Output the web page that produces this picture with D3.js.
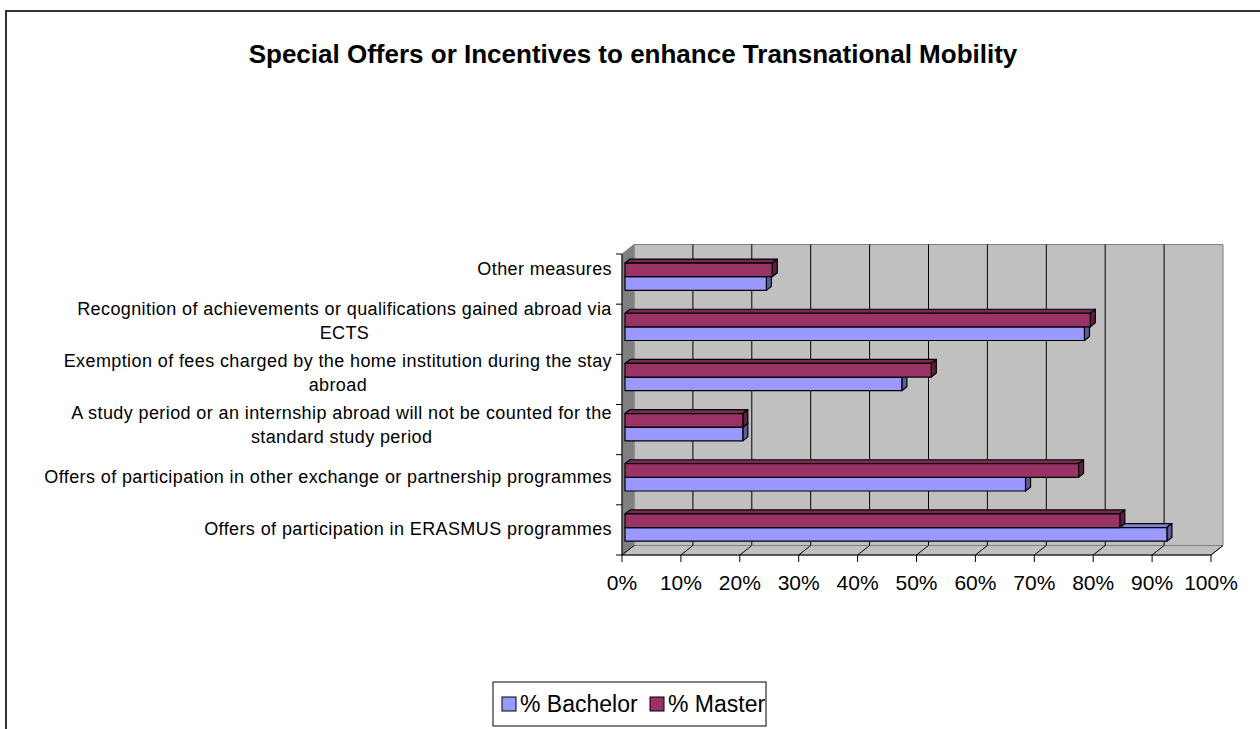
<!DOCTYPE html>
<html>
<head>
<meta charset="utf-8">
<script src="https://cdn.jsdelivr.net/npm/d3@7"></script>
<style>
  body { margin: 0; background: #fff; }
  svg { display: block; font-family: "Liberation Sans", Arial, sans-serif; }
</style>
</head>
<body>
<svg id="chart" width="1260" height="729"></svg>
<script>
// categories, top to bottom as shown
var categories = [
    'Other measures',
    'Recognition',
    'Exemption',
    'Study period',
    'Other exchange',
    'ERASMUS'
];
var categoryLabels = [
    ['Other measures'],
    ['Recognition of achievements or qualifications gained abroad via', 'ECTS'],
    ['Exemption of fees charged by the home institution during the stay', 'abroad'],
    ['A study period or an internship abroad will not be counted for the', 'standard study period'],
    ['Offers of participation in other exchange or partnership programmes'],
    ['Offers of participation in ERASMUS programmes']
];
var bachelor = [24, 78, 47, 20, 68, 92];
var master = [25, 79, 52, 20, 77, 84];
var seriesNames = ['% Bachelor', '% Master'];
var xTicks = [0, 10, 20, 30, 40, 50, 60, 70, 80, 90, 100];

var svg = d3.select('#chart');

// outer frame (runs off the page on right and bottom)
svg.append('rect')
    .attr('x', 6).attr('y', 11)
    .attr('width', 1400).attr('height', 900)
    .attr('fill', 'none')
    .attr('stroke', '#333').attr('stroke-width', 2);

svg.append('text')
    .attr('x', 633).attr('y', 63)
    .attr('text-anchor', 'middle')
    .attr('font-size', 26).attr('font-weight', 'bold')
    .text('Special Offers or Incentives to enhance Transnational Mobility');

// 3D-ish geometry
var DX = 12, DY = -9.5;   // full depth offset
var yTop = 254, yBottom = 555;

var x = d3.scaleLinear().domain([0, 100]).range([622, 1211]);
var y0 = d3.scaleBand().domain(categories).range([yTop, yBottom])
    .paddingInner(0.456).paddingOuter(0.228);
var y1 = d3.scaleBand().domain(['master', 'bachelor']).range([0, y0.bandwidth()]);
var yTicks = d3.scaleBand().domain(categories).range([yTop, yBottom]);
var yLabels = d3.scaleBand().domain(categories).range([242, yBottom]);

function P(px, py, z) { return [px + z * DX, py + z * DY]; }
function poly(pts) { return pts.map(function (p) { return p.join(','); }).join(' '); }

var walls = svg.append('g');
// back wall
walls.append('polygon')
    .attr('points', poly([P(x(0), yTop, 1), P(x(100), yTop, 1), P(x(100), yBottom, 1), P(x(0), yBottom, 1)]))
    .attr('fill', '#c0c0c0').attr('stroke', '#808080');
// floor
walls.append('polygon')
    .attr('points', poly([P(x(0), yBottom, 0), P(x(0), yBottom, 1), P(x(100), yBottom, 1), P(x(100), yBottom, 0)]))
    .attr('fill', '#c0c0c0').attr('stroke', '#808080');
// left side wall
walls.append('polygon')
    .attr('points', poly([P(x(0), yTop, 0), P(x(0), yTop, 1), P(x(0), yBottom, 1), P(x(0), yBottom, 0)]))
    .attr('fill', '#808080').attr('stroke', '#808080');

// gridlines: back wall verticals and floor diagonals
var grid = svg.append('g').attr('stroke', '#000').attr('stroke-width', 1);
grid.selectAll('line.v')
    .data(xTicks.slice(1, -1))
    .enter().append('line')
    .attr('x1', function (d) { return P(x(d), yTop, 1)[0]; })
    .attr('y1', function (d) { return P(x(d), yTop, 1)[1]; })
    .attr('x2', function (d) { return P(x(d), yBottom, 1)[0]; })
    .attr('y2', function (d) { return P(x(d), yBottom, 1)[1]; });
grid.selectAll('line.f')
    .data(xTicks)
    .enter().append('line')
    .attr('x1', function (d) { return P(x(d), yBottom, 0)[0]; })
    .attr('y1', function (d) { return P(x(d), yBottom, 0)[1]; })
    .attr('x2', function (d) { return P(x(d), yBottom, 1)[0]; })
    .attr('y2', function (d) { return P(x(d), yBottom, 1)[1]; });

// bars
var Z1 = 0.25, Z2 = 0.67;
var colors = {
    bachelor: { front: '#9999ff', top: '#8080d9', side: '#5c5c99' },
    master: { front: '#993366', top: '#7a2952', side: '#5c1f3d' }
};

function drawBar(g, cat, v, key) {
    var c = colors[key];
    var yt = y0(cat) + y1(key), yb = yt + y1.bandwidth();
    var x0 = x(0), xv = x(v);
    g.append('polygon')
        .attr('points', poly([P(x0, yt, Z1), P(x0, yt, Z2), P(xv, yt, Z2), P(xv, yt, Z1)]))
        .attr('fill', c.top);
    g.append('polygon')
        .attr('points', poly([P(xv, yt, Z1), P(xv, yt, Z2), P(xv, yb, Z2), P(xv, yb, Z1)]))
        .attr('fill', c.side);
    g.append('polygon')
        .attr('points', poly([P(x0, yt, Z1), P(xv, yt, Z1), P(xv, yb, Z1), P(x0, yb, Z1)]))
        .attr('fill', c.front);
}

var bars = svg.append('g').attr('stroke', '#000').attr('stroke-width', 1.2).attr('stroke-linejoin', 'round');
categories.forEach(function (cat, i) {
    var g = bars.append('g');
    drawBar(g, cat, bachelor[i], 'bachelor');
    drawBar(g, cat, master[i], 'master');
});

// axes
var axis = svg.append('g').attr('stroke', '#000');
axis.append('line')
    .attr('x1', x(0)).attr('x2', x(100))
    .attr('y1', yBottom).attr('y2', yBottom);
axis.append('line')
    .attr('x1', x(0)).attr('x2', x(0))
    .attr('y1', yTop).attr('y2', yBottom);
axis.selectAll('line.xt')
    .data(xTicks)
    .enter().append('line')
    .attr('x1', function (d) { return x(d); }).attr('x2', function (d) { return x(d); })
    .attr('y1', yBottom).attr('y2', yBottom + 7);
axis.selectAll('line.yt')
    .data(categories.concat(['end']))
    .enter().append('line')
    .attr('x1', x(0) - 6).attr('x2', x(0))
    .attr('y1', function (d, i) { return i < categories.length ? yTicks(d) : yBottom; })
    .attr('y2', function (d, i) { return i < categories.length ? yTicks(d) : yBottom; });

svg.append('g').selectAll('text')
    .data(xTicks)
    .enter().append('text')
    .attr('x', function (d) { return x(d); })
    .attr('y', 590)
    .attr('text-anchor', 'middle')
    .attr('font-size', 21)
    .text(function (d) { return d + '%'; });

var labels = svg.append('g').attr('font-size', 18).attr('letter-spacing', 0.4);
categories.forEach(function (cat, i) {
    var lines = categoryLabels[i];
    var cy = yLabels(cat) + yLabels.bandwidth() / 2;
    var lh = 24;
    var t = labels.append('text')
        .attr('text-anchor', 'middle');
    lines.forEach(function (ln, j) {
        t.append('tspan')
            .attr('x', 0)
            .attr('y', cy + (j - (lines.length - 1) / 2) * lh + 6.5)
            .text(ln);
    });
    // right-align the block, centre the shorter lines under the longest
    var w = t.node().getBBox().width;
    t.attr('transform', 'translate(' + (612 - w / 2) + ',0)');
});

// legend
var legend = svg.append('g');
legend.append('rect')
    .attr('x', 493).attr('y', 682).attr('width', 273).attr('height', 44)
    .attr('fill', '#fff').attr('stroke', '#000');
var legendColors = [colors.bachelor.front, colors.master.front];
var lx = [502, 650];
seriesNames.forEach(function (name, i) {
    legend.append('rect')
        .attr('x', lx[i]).attr('y', 697).attr('width', 14).attr('height', 14)
        .attr('fill', legendColors[i]).attr('stroke', '#000');
    legend.append('text')
        .attr('x', lx[i] + 18).attr('y', 712)
        .attr('font-size', 23)
        .text(name);
});
</script>
</body>
</html>
